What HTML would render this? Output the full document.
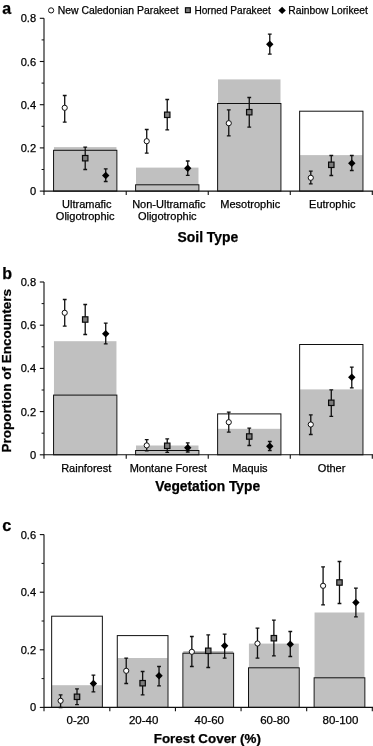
<!DOCTYPE html>
<html><head><meta charset="utf-8"><title>Figure</title>
<style>html,body{margin:0;padding:0;background:#fff}svg{display:block}text{stroke:#000;stroke-width:.25px}</style>
</head><body>
<svg width="373" height="746" viewBox="0 0 373 746" font-family='"Liberation Sans", sans-serif' fill="#000">
<rect x="53.96" y="147.10" width="62.50" height="44.00" fill="#c0c0c0"/>
<rect x="135.99" y="167.60" width="62.50" height="23.50" fill="#c0c0c0"/>
<rect x="218.01" y="79.40" width="62.50" height="111.70" fill="#c0c0c0"/>
<rect x="300.04" y="155.10" width="62.50" height="36.00" fill="#c0c0c0"/>
<rect x="53.56" y="150.30" width="63.30" height="40.80" fill="none" stroke="#101010" stroke-width="1"/>
<rect x="135.59" y="184.80" width="63.30" height="6.30" fill="none" stroke="#101010" stroke-width="1"/>
<rect x="217.61" y="103.50" width="63.30" height="87.60" fill="none" stroke="#101010" stroke-width="1"/>
<rect x="299.64" y="111.20" width="63.30" height="79.90" fill="none" stroke="#101010" stroke-width="1"/>
<path d="M44.0 18.3 V191.1 H373" fill="none" stroke="#101010" stroke-width="1.1"/>
<path d="M39.8 191.10 H44.0" stroke="#101010" stroke-width="1.1"/>
<text x="36.1" y="195.10" text-anchor="end" font-size="11.1">0</text>
<path d="M39.8 147.90 H44.0" stroke="#101010" stroke-width="1.1"/>
<text x="36.1" y="151.90" text-anchor="end" font-size="11.1">0.2</text>
<path d="M39.8 104.70 H44.0" stroke="#101010" stroke-width="1.1"/>
<text x="36.1" y="108.70" text-anchor="end" font-size="11.1">0.4</text>
<path d="M39.8 61.50 H44.0" stroke="#101010" stroke-width="1.1"/>
<text x="36.1" y="65.50" text-anchor="end" font-size="11.1">0.6</text>
<path d="M39.8 18.30 H44.0" stroke="#101010" stroke-width="1.1"/>
<text x="36.1" y="22.30" text-anchor="end" font-size="11.1">0.8</text>
<path d="M41.6 169.50 H44.0" stroke="#101010" stroke-width="1"/>
<path d="M41.6 126.30 H44.0" stroke="#101010" stroke-width="1"/>
<path d="M41.6 83.10 H44.0" stroke="#101010" stroke-width="1"/>
<path d="M41.6 39.90 H44.0" stroke="#101010" stroke-width="1"/>
<path d="M44.00 191.1 V195.0" stroke="#101010" stroke-width="1.1"/>
<path d="M126.23 191.1 V195.0" stroke="#101010" stroke-width="1.1"/>
<path d="M208.25 191.1 V195.0" stroke="#101010" stroke-width="1.1"/>
<path d="M290.28 191.1 V195.0" stroke="#101010" stroke-width="1.1"/>
<path d="M372.30 191.1 V195.0" stroke="#101010" stroke-width="1.1"/>
<path d="M64.71 95.50 V122.20 M62.81 95.50 h3.8 M62.81 122.20 h3.8" stroke="#101010" stroke-width="1.3" fill="none"/>
<circle cx="64.71" cy="107.80" r="2.60" fill="#fff" stroke="#101010" stroke-width="1.0"/>
<path d="M85.21 147.20 V169.50 M83.31 147.20 h3.8 M83.31 169.50 h3.8" stroke="#101010" stroke-width="1.3" fill="none"/>
<rect x="82.51" y="155.50" width="5.40" height="5.40" fill="#7c7c7c" stroke="#0a0a0a" stroke-width="1.2"/>
<path d="M105.72 168.80 V181.50 M103.82 168.80 h3.8 M103.82 181.50 h3.8" stroke="#101010" stroke-width="1.3" fill="none"/>
<path d="M105.72 171.80 L109.42 175.50 L105.72 179.20 L102.02 175.50Z" fill="#000"/>
<path d="M146.73 129.50 V153.20 M144.83 129.50 h3.8 M144.83 153.20 h3.8" stroke="#101010" stroke-width="1.3" fill="none"/>
<circle cx="146.73" cy="141.20" r="2.60" fill="#fff" stroke="#101010" stroke-width="1.0"/>
<path d="M167.24 99.50 V129.80 M165.34 99.50 h3.8 M165.34 129.80 h3.8" stroke="#101010" stroke-width="1.3" fill="none"/>
<rect x="164.54" y="112.10" width="5.40" height="5.40" fill="#7c7c7c" stroke="#0a0a0a" stroke-width="1.2"/>
<path d="M187.74 161.00 V175.30 M185.84 161.00 h3.8 M185.84 175.30 h3.8" stroke="#101010" stroke-width="1.3" fill="none"/>
<path d="M187.74 164.60 L191.44 168.30 L187.74 172.00 L184.04 168.30Z" fill="#000"/>
<path d="M228.76 109.80 V135.90 M226.86 109.80 h3.8 M226.86 135.90 h3.8" stroke="#101010" stroke-width="1.3" fill="none"/>
<circle cx="228.76" cy="123.20" r="2.60" fill="#fff" stroke="#101010" stroke-width="1.0"/>
<path d="M249.26 97.50 V127.20 M247.36 97.50 h3.8 M247.36 127.20 h3.8" stroke="#101010" stroke-width="1.3" fill="none"/>
<rect x="246.56" y="109.50" width="5.40" height="5.40" fill="#7c7c7c" stroke="#0a0a0a" stroke-width="1.2"/>
<path d="M269.77 34.20 V54.20 M267.87 34.20 h3.8 M267.87 54.20 h3.8" stroke="#101010" stroke-width="1.3" fill="none"/>
<path d="M269.77 40.60 L273.47 44.30 L269.77 48.00 L266.07 44.30Z" fill="#000"/>
<path d="M310.78 171.20 V183.80 M308.88 171.20 h3.8 M308.88 183.80 h3.8" stroke="#101010" stroke-width="1.3" fill="none"/>
<circle cx="310.78" cy="177.80" r="2.60" fill="#fff" stroke="#101010" stroke-width="1.0"/>
<path d="M331.29 155.50 V175.50 M329.39 155.50 h3.8 M329.39 175.50 h3.8" stroke="#101010" stroke-width="1.3" fill="none"/>
<rect x="328.59" y="162.10" width="5.40" height="5.40" fill="#7c7c7c" stroke="#0a0a0a" stroke-width="1.2"/>
<path d="M351.79 155.50 V170.50 M349.89 155.50 h3.8 M349.89 170.50 h3.8" stroke="#101010" stroke-width="1.3" fill="none"/>
<path d="M351.79 159.50 L355.49 163.20 L351.79 166.90 L348.09 163.20Z" fill="#000"/>
<text x="86.81" y="208.10" text-anchor="middle" font-size="11.0">Ultramafic</text>
<text x="85.21" y="219.90" text-anchor="middle" font-size="11.0">Oligotrophic</text>
<text x="168.84" y="208.10" text-anchor="middle" font-size="11.0">Non-Ultramafic</text>
<text x="167.24" y="219.90" text-anchor="middle" font-size="11.0">Oligotrophic</text>
<text x="250.26" y="208.10" text-anchor="middle" font-size="11.0">Mesotrophic</text>
<text x="332.29" y="208.10" text-anchor="middle" font-size="11.0">Eutrophic</text>
<rect x="53.96" y="341.20" width="62.50" height="113.60" fill="#c0c0c0"/>
<rect x="135.99" y="445.50" width="62.50" height="9.30" fill="#c0c0c0"/>
<rect x="218.01" y="428.80" width="62.50" height="26.00" fill="#c0c0c0"/>
<rect x="300.04" y="389.40" width="62.50" height="65.40" fill="#c0c0c0"/>
<rect x="53.56" y="395.10" width="63.30" height="59.70" fill="none" stroke="#101010" stroke-width="1"/>
<rect x="135.59" y="450.50" width="63.30" height="4.30" fill="none" stroke="#101010" stroke-width="1"/>
<rect x="217.61" y="413.90" width="63.30" height="40.90" fill="none" stroke="#101010" stroke-width="1"/>
<rect x="299.64" y="344.50" width="63.30" height="110.30" fill="none" stroke="#101010" stroke-width="1"/>
<path d="M44.0 282.0 V454.8 H373" fill="none" stroke="#101010" stroke-width="1.1"/>
<path d="M39.8 454.80 H44.0" stroke="#101010" stroke-width="1.1"/>
<text x="36.1" y="458.80" text-anchor="end" font-size="11.1">0</text>
<path d="M39.8 411.60 H44.0" stroke="#101010" stroke-width="1.1"/>
<text x="36.1" y="415.60" text-anchor="end" font-size="11.1">0.2</text>
<path d="M39.8 368.40 H44.0" stroke="#101010" stroke-width="1.1"/>
<text x="36.1" y="372.40" text-anchor="end" font-size="11.1">0.4</text>
<path d="M39.8 325.20 H44.0" stroke="#101010" stroke-width="1.1"/>
<text x="36.1" y="329.20" text-anchor="end" font-size="11.1">0.6</text>
<path d="M39.8 282.00 H44.0" stroke="#101010" stroke-width="1.1"/>
<text x="36.1" y="286.00" text-anchor="end" font-size="11.1">0.8</text>
<path d="M41.6 433.20 H44.0" stroke="#101010" stroke-width="1"/>
<path d="M41.6 390.00 H44.0" stroke="#101010" stroke-width="1"/>
<path d="M41.6 346.80 H44.0" stroke="#101010" stroke-width="1"/>
<path d="M41.6 303.60 H44.0" stroke="#101010" stroke-width="1"/>
<path d="M44.00 454.8 V458.7" stroke="#101010" stroke-width="1.1"/>
<path d="M126.23 454.8 V458.7" stroke="#101010" stroke-width="1.1"/>
<path d="M208.25 454.8 V458.7" stroke="#101010" stroke-width="1.1"/>
<path d="M290.28 454.8 V458.7" stroke="#101010" stroke-width="1.1"/>
<path d="M372.30 454.8 V458.7" stroke="#101010" stroke-width="1.1"/>
<path d="M64.71 299.50 V326.20 M62.81 299.50 h3.8 M62.81 326.20 h3.8" stroke="#101010" stroke-width="1.3" fill="none"/>
<circle cx="64.71" cy="312.80" r="2.60" fill="#fff" stroke="#101010" stroke-width="1.0"/>
<path d="M85.21 304.50 V334.50 M83.31 304.50 h3.8 M83.31 334.50 h3.8" stroke="#101010" stroke-width="1.3" fill="none"/>
<rect x="82.51" y="316.80" width="5.40" height="5.40" fill="#7c7c7c" stroke="#0a0a0a" stroke-width="1.2"/>
<path d="M105.72 323.20 V343.80 M103.82 323.20 h3.8 M103.82 343.80 h3.8" stroke="#101010" stroke-width="1.3" fill="none"/>
<path d="M105.72 330.10 L109.42 333.80 L105.72 337.50 L102.02 333.80Z" fill="#000"/>
<path d="M146.73 439.60 V450.80 M144.83 439.60 h3.8 M144.83 450.80 h3.8" stroke="#101010" stroke-width="1.3" fill="none"/>
<circle cx="146.73" cy="445.40" r="2.60" fill="#fff" stroke="#101010" stroke-width="1.0"/>
<path d="M167.24 438.80 V452.30 M165.34 438.80 h3.8 M165.34 452.30 h3.8" stroke="#101010" stroke-width="1.3" fill="none"/>
<rect x="164.54" y="443.10" width="5.40" height="5.40" fill="#7c7c7c" stroke="#0a0a0a" stroke-width="1.2"/>
<path d="M187.74 442.80 V452.00 M185.84 442.80 h3.8 M185.84 452.00 h3.8" stroke="#101010" stroke-width="1.3" fill="none"/>
<path d="M187.74 444.10 L191.44 447.80 L187.74 451.50 L184.04 447.80Z" fill="#000"/>
<path d="M228.76 412.20 V432.20 M226.86 412.20 h3.8 M226.86 432.20 h3.8" stroke="#101010" stroke-width="1.3" fill="none"/>
<circle cx="228.76" cy="422.20" r="2.60" fill="#fff" stroke="#101010" stroke-width="1.0"/>
<path d="M249.26 428.20 V445.50 M247.36 428.20 h3.8 M247.36 445.50 h3.8" stroke="#101010" stroke-width="1.3" fill="none"/>
<rect x="246.56" y="433.80" width="5.40" height="5.40" fill="#7c7c7c" stroke="#0a0a0a" stroke-width="1.2"/>
<path d="M269.77 441.50 V450.50 M267.87 441.50 h3.8 M267.87 450.50 h3.8" stroke="#101010" stroke-width="1.3" fill="none"/>
<path d="M269.77 442.50 L273.47 446.20 L269.77 449.90 L266.07 446.20Z" fill="#000"/>
<path d="M310.78 414.80 V434.50 M308.88 414.80 h3.8 M308.88 434.50 h3.8" stroke="#101010" stroke-width="1.3" fill="none"/>
<circle cx="310.78" cy="424.50" r="2.60" fill="#fff" stroke="#101010" stroke-width="1.0"/>
<path d="M331.29 389.80 V416.30 M329.39 389.80 h3.8 M329.39 416.30 h3.8" stroke="#101010" stroke-width="1.3" fill="none"/>
<rect x="328.59" y="400.10" width="5.40" height="5.40" fill="#7c7c7c" stroke="#0a0a0a" stroke-width="1.2"/>
<path d="M351.79 367.20 V387.80 M349.89 367.20 h3.8 M349.89 387.80 h3.8" stroke="#101010" stroke-width="1.3" fill="none"/>
<path d="M351.79 373.50 L355.49 377.20 L351.79 380.90 L348.09 377.20Z" fill="#000"/>
<text x="86.21" y="471.80" text-anchor="middle" font-size="11.0">Rainforest</text>
<text x="168.24" y="471.80" text-anchor="middle" font-size="11.0">Montane Forest</text>
<text x="249.86" y="471.80" text-anchor="middle" font-size="11.0">Maquis</text>
<text x="331.59" y="471.80" text-anchor="middle" font-size="11.0">Other</text>
<rect x="52.06" y="685.20" width="49.90" height="22.20" fill="#c0c0c0"/>
<rect x="117.68" y="658.00" width="49.90" height="49.40" fill="#c0c0c0"/>
<rect x="183.30" y="651.00" width="49.90" height="56.40" fill="#c0c0c0"/>
<rect x="248.92" y="643.60" width="49.90" height="63.80" fill="#c0c0c0"/>
<rect x="314.54" y="612.50" width="49.90" height="94.90" fill="#c0c0c0"/>
<rect x="51.66" y="616.20" width="50.70" height="91.20" fill="none" stroke="#101010" stroke-width="1"/>
<rect x="117.28" y="635.60" width="50.70" height="71.80" fill="none" stroke="#101010" stroke-width="1"/>
<rect x="182.90" y="653.20" width="50.70" height="54.20" fill="none" stroke="#101010" stroke-width="1"/>
<rect x="248.52" y="667.80" width="50.70" height="39.60" fill="none" stroke="#101010" stroke-width="1"/>
<rect x="314.14" y="677.80" width="50.70" height="29.60" fill="none" stroke="#101010" stroke-width="1"/>
<path d="M44.0 534.6 V707.4 H373" fill="none" stroke="#101010" stroke-width="1.1"/>
<path d="M39.8 707.40 H44.0" stroke="#101010" stroke-width="1.1"/>
<text x="36.1" y="711.40" text-anchor="end" font-size="11.1">0</text>
<path d="M39.8 649.80 H44.0" stroke="#101010" stroke-width="1.1"/>
<text x="36.1" y="653.80" text-anchor="end" font-size="11.1">0.2</text>
<path d="M39.8 592.20 H44.0" stroke="#101010" stroke-width="1.1"/>
<text x="36.1" y="596.20" text-anchor="end" font-size="11.1">0.4</text>
<path d="M39.8 534.60 H44.0" stroke="#101010" stroke-width="1.1"/>
<text x="36.1" y="538.60" text-anchor="end" font-size="11.1">0.6</text>
<path d="M41.6 678.60 H44.0" stroke="#101010" stroke-width="1"/>
<path d="M41.6 621.00 H44.0" stroke="#101010" stroke-width="1"/>
<path d="M41.6 563.40 H44.0" stroke="#101010" stroke-width="1"/>
<path d="M44.00 707.4 V711.3" stroke="#101010" stroke-width="1.1"/>
<path d="M109.82 707.4 V711.3" stroke="#101010" stroke-width="1.1"/>
<path d="M175.44 707.4 V711.3" stroke="#101010" stroke-width="1.1"/>
<path d="M241.06 707.4 V711.3" stroke="#101010" stroke-width="1.1"/>
<path d="M306.68 707.4 V711.3" stroke="#101010" stroke-width="1.1"/>
<path d="M372.30 707.4 V711.3" stroke="#101010" stroke-width="1.1"/>
<path d="M60.61 694.80 V707.50 M58.71 694.80 h3.8 M58.71 707.50 h3.8" stroke="#101010" stroke-width="1.3" fill="none"/>
<circle cx="60.61" cy="700.80" r="2.60" fill="#fff" stroke="#101010" stroke-width="1.0"/>
<path d="M77.01 688.80 V704.70 M75.11 688.80 h3.8 M75.11 704.70 h3.8" stroke="#101010" stroke-width="1.3" fill="none"/>
<rect x="74.31" y="694.10" width="5.40" height="5.40" fill="#7c7c7c" stroke="#0a0a0a" stroke-width="1.2"/>
<path d="M93.42 675.20 V691.80 M91.52 675.20 h3.8 M91.52 691.80 h3.8" stroke="#101010" stroke-width="1.3" fill="none"/>
<path d="M93.42 679.80 L97.12 683.50 L93.42 687.20 L89.72 683.50Z" fill="#000"/>
<path d="M126.22 658.20 V683.50 M124.32 658.20 h3.8 M124.32 683.50 h3.8" stroke="#101010" stroke-width="1.3" fill="none"/>
<circle cx="126.22" cy="670.80" r="2.60" fill="#fff" stroke="#101010" stroke-width="1.0"/>
<path d="M142.63 671.50 V694.80 M140.73 671.50 h3.8 M140.73 694.80 h3.8" stroke="#101010" stroke-width="1.3" fill="none"/>
<rect x="139.93" y="680.50" width="5.40" height="5.40" fill="#7c7c7c" stroke="#0a0a0a" stroke-width="1.2"/>
<path d="M159.03 666.50 V685.80 M157.13 666.50 h3.8 M157.13 685.80 h3.8" stroke="#101010" stroke-width="1.3" fill="none"/>
<path d="M159.03 672.10 L162.73 675.80 L159.03 679.50 L155.34 675.80Z" fill="#000"/>
<path d="M191.84 636.50 V666.50 M189.94 636.50 h3.8 M189.94 666.50 h3.8" stroke="#101010" stroke-width="1.3" fill="none"/>
<circle cx="191.84" cy="651.80" r="2.60" fill="#fff" stroke="#101010" stroke-width="1.0"/>
<path d="M208.25 634.80 V667.50 M206.35 634.80 h3.8 M206.35 667.50 h3.8" stroke="#101010" stroke-width="1.3" fill="none"/>
<rect x="205.55" y="648.10" width="5.40" height="5.40" fill="#7c7c7c" stroke="#0a0a0a" stroke-width="1.2"/>
<path d="M224.66 634.20 V658.20 M222.75 634.20 h3.8 M222.75 658.20 h3.8" stroke="#101010" stroke-width="1.3" fill="none"/>
<path d="M224.66 642.10 L228.35 645.80 L224.66 649.50 L220.96 645.80Z" fill="#000"/>
<path d="M257.47 628.20 V658.20 M255.57 628.20 h3.8 M255.57 658.20 h3.8" stroke="#101010" stroke-width="1.3" fill="none"/>
<circle cx="257.47" cy="643.50" r="2.60" fill="#fff" stroke="#101010" stroke-width="1.0"/>
<path d="M273.87 620.20 V655.80 M271.97 620.20 h3.8 M271.97 655.80 h3.8" stroke="#101010" stroke-width="1.3" fill="none"/>
<rect x="271.17" y="635.50" width="5.40" height="5.40" fill="#7c7c7c" stroke="#0a0a0a" stroke-width="1.2"/>
<path d="M290.27 631.50 V656.50 M288.38 631.50 h3.8 M288.38 656.50 h3.8" stroke="#101010" stroke-width="1.3" fill="none"/>
<path d="M290.27 640.50 L293.97 644.20 L290.27 647.90 L286.57 644.20Z" fill="#000"/>
<path d="M323.09 566.80 V604.80 M321.19 566.80 h3.8 M321.19 604.80 h3.8" stroke="#101010" stroke-width="1.3" fill="none"/>
<circle cx="323.09" cy="585.80" r="2.60" fill="#fff" stroke="#101010" stroke-width="1.0"/>
<path d="M339.49 561.50 V603.50 M337.59 561.50 h3.8 M337.59 603.50 h3.8" stroke="#101010" stroke-width="1.3" fill="none"/>
<rect x="336.79" y="579.80" width="5.40" height="5.40" fill="#7c7c7c" stroke="#0a0a0a" stroke-width="1.2"/>
<path d="M355.89 588.20 V616.80 M354.00 588.20 h3.8 M354.00 616.80 h3.8" stroke="#101010" stroke-width="1.3" fill="none"/>
<path d="M355.89 598.80 L359.59 602.50 L355.89 606.20 L352.19 602.50Z" fill="#000"/>
<text x="78.01" y="724.40" text-anchor="middle" font-size="11.5">0-20</text>
<text x="143.63" y="724.40" text-anchor="middle" font-size="11.5">20-40</text>
<text x="209.25" y="724.40" text-anchor="middle" font-size="11.5">40-60</text>
<text x="274.87" y="724.40" text-anchor="middle" font-size="11.5">60-80</text>
<text x="340.49" y="724.40" text-anchor="middle" font-size="11.5">80-100</text>
<text x="207.9" y="242.0" text-anchor="middle" font-size="13.9" font-weight="bold">Soil Type</text>
<text x="207.7" y="490.5" text-anchor="middle" font-size="13.8" font-weight="bold">Vegetation Type</text>
<text x="207.3" y="743.1" text-anchor="middle" font-size="13.4" font-weight="bold">Forest Cover (%)</text>
<text transform="translate(11.4,370.7) rotate(-90)" text-anchor="middle" font-size="13.5" font-weight="bold">Proportion of Encounters</text>
<text x="2.2" y="14.4" font-size="16" font-weight="bold">a</text>
<text x="2.3" y="278.8" font-size="16" font-weight="bold">b</text>
<text x="2.2" y="530.7" font-size="16.3" font-weight="bold">c</text>
<circle cx="51.10" cy="10.40" r="2.60" fill="#fff" stroke="#101010" stroke-width="1.0"/>
<text x="57.7" y="13.6" font-size="10.42">New Caledonian Parakeet</text>
<rect x="185.47" y="7.77" width="4.86" height="4.86" fill="#7c7c7c" stroke="#0a0a0a" stroke-width="1.2"/>
<text x="194.4" y="13.6" font-size="10.1">Horned Parakeet</text>
<path d="M282.10 6.70 L285.80 10.40 L282.10 14.10 L278.40 10.40Z" fill="#000"/>
<text x="288.3" y="13.6" font-size="10.3">Rainbow Lorikeet</text>
</svg>
</body></html>
